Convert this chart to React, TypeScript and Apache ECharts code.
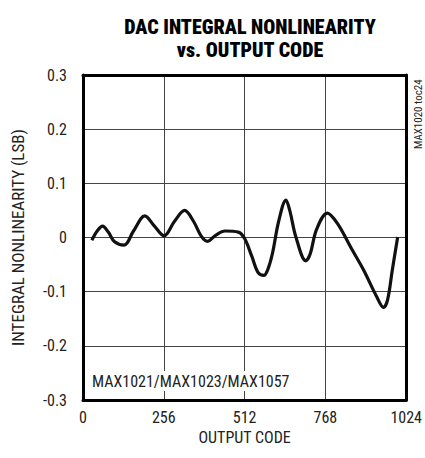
import React, { useEffect, useRef } from "react";
import * as echarts from "echarts";

const codes = [28, 45, 62, 80, 100, 130, 160, 196, 225, 257, 290, 322, 350, 375, 395, 420, 450, 492, 512, 535, 555, 573, 585, 600, 620, 643, 655, 675, 706, 720, 740, 774, 806, 850, 889, 931, 952, 965, 980, 997];
const inl = [-0.005, 0.012, 0.021, 0.01, -0.008, -0.014, 0.012, 0.04, 0.022, 0.003, 0.03, 0.05, 0.03, 0.002, -0.007, 0.004, 0.012, 0.01, -0.002, -0.035, -0.065, -0.07, -0.06, -0.03, 0.03, 0.069, 0.05, 0.0, -0.043, -0.03, 0.015, 0.045, 0.026, -0.02, -0.06, -0.11, -0.129, -0.115, -0.06, 0.001];

const titleLines = ["DAC INTEGRAL NONLINEARITY", "vs. OUTPUT CODE"];
const xName = "OUTPUT CODE";
const yName = "INTEGRAL NONLINEARITY (LSB)";
const note = "MAX1021/MAX1023/MAX1057";
const figId = "MAX1020 toc24";

const FONT = "'Roboto Condensed', 'Liberation Sans Narrow', 'Liberation Sans', Arial, sans-serif";
const frameLine = { show: true, onZero: false, lineStyle: { color: "#000", width: 3 } };

export default function App() {
  const ref = useRef<HTMLDivElement>(null);
  useEffect(() => {
    if (!ref.current) return;
    const chart = echarts.init(ref.current, null, { renderer: "svg" });
    chart.setOption({
      animation: false,
      backgroundColor: "#fff",
      textStyle: { fontFamily: FONT },
      title: {
        text: titleLines.join("\n"),
        left: 245,
        textAlign: "center",
        top: 10,
        textStyle: {
          fontFamily: FONT,
          fontWeight: 900,
          fontSize: 20,
          lineHeight: 23,
          color: "#000",
        },
      },
      grid: { left: 83, top: 75, width: 326, height: 325 },
      xAxis: [
        {
          type: "value",
          position: "bottom",
          min: 0,
          max: 1024,
          interval: 256,
          name: xName,
          nameLocation: "middle",
          nameGap: 25,
          nameTextStyle: { fontFamily: FONT, fontSize: 16, color: "#222" },
          axisLine: frameLine,
          axisTick: { show: false },
          axisLabel: {
            fontFamily: FONT,
            fontSize: 16,
            color: "#222",
            margin: 9,
            formatter: (v: number) => String(v),
          },
          splitLine: { show: true, lineStyle: { color: "#444", width: 1 } },
          z: 3,
        },
        {
          type: "value",
          position: "top",
          min: 0,
          max: 1024,
          interval: 256,
          axisLine: frameLine,
          axisTick: { show: false },
          axisLabel: { show: false },
          splitLine: { show: false },
          z: 3,
        },
      ],
      yAxis: [
        {
          type: "value",
          position: "left",
          min: -0.3,
          max: 0.3,
          interval: 0.1,
          name: yName,
          nameLocation: "middle",
          nameGap: 57,
          nameTextStyle: { fontFamily: FONT, fontSize: 17, color: "#222" },
          axisLine: frameLine,
          axisTick: { show: false },
          axisLabel: {
            fontFamily: FONT,
            fontSize: 16,
            color: "#222",
            margin: 16,
            formatter: (v: number) => (Math.abs(v) < 1e-9 ? "0" : v.toFixed(1)),
          },
          splitLine: { show: true, lineStyle: { color: "#444", width: 1 } },
          z: 3,
        },
        {
          type: "value",
          position: "right",
          min: -0.3,
          max: 0.3,
          interval: 0.1,
          axisLine: frameLine,
          axisTick: { show: false },
          axisLabel: { show: false },
          splitLine: { show: false },
          z: 3,
        },
      ],
      series: [
        {
          type: "line",
          data: codes.map((c, i) => [c, inl[i]]),
          smooth: 0.35,
          showSymbol: false,
          lineStyle: { color: "#111", width: 3.2 },
          z: 5,
        },
      ],
      graphic: [
        {
          type: "text",
          left: 91,
          top: 371,
          z: 20,
          style: {
            text: note,
            fontFamily: FONT,
            fontSize: 16,
            fill: "#222",
            backgroundColor: "#fff",
            padding: [2, 1, 2, 1],
          },
        },
        {
          type: "text",
          x: 418,
          y: 149,
          rotation: Math.PI / 2,
          z: 20,
          style: {
            text: figId,
            x: 0,
            y: 0,
            align: "left",
            verticalAlign: "middle",
            fontFamily: FONT,
            fontSize: 11,
            fill: "#222",
          },
        },
      ],
    });
    return () => chart.dispose();
  }, []);
  return (
    <div
      ref={ref}
      style={{ position: "fixed", left: 0, top: 0, width: 425, height: 458 }}
    />
  );
}
